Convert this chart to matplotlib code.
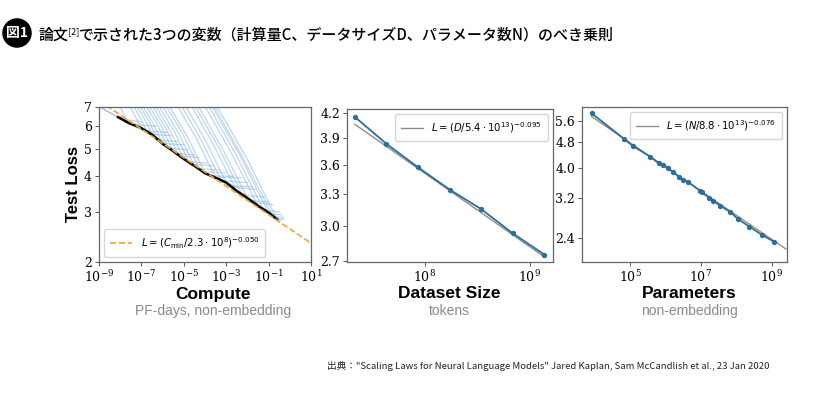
import numpy as np
import matplotlib.pyplot as plt
from matplotlib.font_manager import FontProperties

plt.rcParams['font.family'] = ['Noto Sans CJK JP', 'DejaVu Sans']
plt.rcParams['mathtext.fontset'] = 'dejavuserif'

# ---- panel 1: compute (log10 PF-days) vs test loss
frontier_logc = [-8.1, -7.6, -7.0, -6.5, -6.0, -5.5, -5.0, -4.5, -4.0, -3.5,
                 -3.0, -2.5, -2.0, -1.5, -1.0, -0.6]
frontier_loss = [6.45, 6.15, 5.9, 5.6, 5.2, 4.9, 4.6, 4.35, 4.1, 3.95,
                 3.8, 3.55, 3.35, 3.15, 2.98, 2.82]
fit_c = [1e-9, 1e1]
fit_c_loss = [7.37, 2.33]

curve_logc = [
    [-9.0, -8.6, -8.2, -7.6, -7.0],
    [-8.9, -8.5, -8.1, -7.5],
    [-8.0, -7.8, -7.6, -7.0, -6.3],
    [-7.53, -7.27, -7.0, -6.5, -5.8],
    [-7.35, -7.05, -6.75, -6.3, -5.6],
    [-7.19, -6.85, -6.5, -6.0, -5.3],
    [-7.05, -6.65, -6.25, -5.8, -5.0],
    [-6.92, -6.46, -6.0, -5.5, -4.8],
    [-6.75, -6.25, -5.75, -5.2, -4.5],
    [-6.61, -6.06, -5.5, -5.0, -4.3],
    [-6.45, -5.85, -5.25, -4.7, -3.9],
    [-6.30, -5.65, -5.0, -4.5, -3.6],
    [-6.15, -5.45, -4.75, -4.2, -3.3],
    [-5.98, -5.24, -4.5, -4.0, -3.0],
    [-5.80, -5.03, -4.25, -3.7, -2.7],
    [-5.66, -4.83, -4.0, -3.5, -2.3],
    [-5.27, -4.39, -3.5, -3.0, -2.0],
    [-5.08, -4.17, -3.25, -2.7, -1.8],
    [-4.89, -3.95, -3.0, -2.5, -1.6],
    [-4.61, -3.56, -2.5, -2.0, -1.2],
    [-4.45, -3.35, -2.25, -1.7, -1.0],
    [-4.29, -3.15, -2.0, -1.5, -0.8],
    [-3.98, -2.74, -1.5, -1.0, -0.5],
    [-3.80, -2.53, -1.25, -0.8, -0.4],
    [-3.65, -2.33, -1.0, -0.6, -0.3],
    [-3.55, -2.18, -0.8, -0.5, -0.25],
    [-3.42, -2.01, -0.6, -0.4],
]
curve_loss = [
    [7.0, 6.75, 6.5, 6.3, 6.2],
    [7.0, 6.7, 6.45, 6.2],
    [7.0, 6.55, 6.15, 6.05, 6.0],
    [7.0, 6.45, 5.9, 5.75, 5.7],
    [7.0, 6.4, 5.75, 5.6, 5.55],
    [7.0, 6.35, 5.6, 5.35, 5.3],
    [7.0, 6.25, 5.4, 5.2, 5.15],
    [7.0, 6.15, 5.2, 5.0, 4.95],
    [7.0, 6.1, 5.05, 4.8, 4.75],
    [7.0, 6.0, 4.9, 4.7, 4.65],
    [7.0, 5.9, 4.75, 4.5, 4.45],
    [7.0, 5.8, 4.6, 4.4, 4.35],
    [7.0, 5.75, 4.47, 4.25, 4.2],
    [7.0, 5.65, 4.35, 4.15, 4.1],
    [7.0, 5.6, 4.22, 4.02, 4.0],
    [7.0, 5.5, 4.1, 3.97, 3.95],
    [7.0, 5.4, 3.95, 3.85, 3.8],
    [7.0, 5.35, 3.88, 3.7, 3.68],
    [7.0, 5.3, 3.8, 3.65, 3.6],
    [7.0, 5.1, 3.55, 3.42, 3.38],
    [7.0, 5.05, 3.45, 3.28, 3.25],
    [7.0, 4.95, 3.35, 3.22, 3.18],
    [7.0, 4.8, 3.15, 3.03, 3.0],
    [7.0, 4.75, 3.06, 2.95, 2.93],
    [7.0, 4.7, 2.98, 2.88, 2.87],
    [7.0, 4.6, 2.9, 2.84, 2.83],
    [7.0, 4.6, 2.82, 2.8],
]

# ---- panel 2: dataset size
tokens = [2.15e7, 4.3e7, 8.6e7, 1.72e8, 3.44e8, 6.88e8, 1.376e9]
data_loss = [4.15, 3.83, 3.57, 3.34, 3.15, 2.93, 2.75]
fit_d = [2.15e7, 1.38e9]
fit_d_loss = [4.06, 2.73]

# ---- panel 3: parameters
params = [8.3e3, 6.8e4, 1.19e5, 3.67e5, 6.6e5, 8.7e5, 1.21e6, 1.67e6, 2.47e6,
          3.2e6, 4.45e6, 9.5e6, 1.06e7, 1.7e7, 2.26e7, 3.49e7, 6.7e7, 1.15e8,
          2.35e8, 5.25e8, 1.15e9]
param_loss = [5.92, 4.92, 4.68, 4.33, 4.12, 4.08, 3.98, 3.86, 3.74, 3.66,
              3.60, 3.38, 3.34, 3.22, 3.14, 3.04, 2.90, 2.75, 2.61, 2.46, 2.34]
fit_n = [8.3e3, 2.5e9]
fit_n_loss = [5.78, 2.22]

W, H = 840, 397
fig = plt.figure(figsize=(8.4, 3.97), dpi=100)

def px_axes(l, t, r, b):
    return fig.add_axes([l / W, 1 - b / H, (r - l) / W, (b - t) / H])

ax1 = px_axes(99, 107, 311, 262)
ax2 = px_axes(347, 109, 553, 262)
ax3 = px_axes(582, 107, 787, 262)

line_blue = '#2c6e9c'
leg_prop = FontProperties(family='DejaVu Sans', math_fontfamily='dejavusans', size=7.3)

# panel 1
for xs, ys in zip(curve_logc, curve_loss):
    ax1.plot(10 ** np.array(xs), ys, color='#5b9bd5', alpha=0.4, lw=0.9)
ax1.plot(10 ** np.array(frontier_logc), frontier_loss, color='black', lw=1.8)
ax1.plot(fit_c, fit_c_loss, color='#f0a630', ls='--', lw=1.2,
         label=r'$L = (C_{\rm min}/2.3\cdot 10^{8})^{-0.050}$')
ax1.set_xscale('log')
ax1.set_yscale('log')
ax1.set_xlim(1e-9, 1e1)
ax1.set_ylim(2, 7)
ax1.set_xticks([1e-9, 1e-7, 1e-5, 1e-3, 1e-1, 1e1])
ax1.set_xticklabels([r'$10^{-9}$', r'$10^{-7}$', r'$10^{-5}$', r'$10^{-3}$',
                     r'$10^{-1}$', r'$10^{1}$'])
ax1.set_yticks([2, 3, 4, 5, 6, 7])
ax1.set_yticklabels(['2', '3', '4', '5', '6', '7'])
ax1.set_ylabel('Test Loss', family='Liberation Sans', fontweight='bold',
               fontsize=12, labelpad=2)
ax1.legend(loc='lower left', prop=leg_prop, handlelength=2.2, borderpad=0.6)

# panel 2
ax2.plot(fit_d, fit_d_loss, color='#8c8c8c', lw=1.0,
         label=r'$L = (D/5.4\cdot 10^{13})^{-0.095}$')
ax2.plot(tokens, data_loss, color=line_blue, lw=1.3, marker='o', ms=2.8)
ax2.set_xscale('log')
ax2.set_yscale('log')
ax2.set_xlim(1.81e7, 1.66e9)
ax2.set_ylim(2.69, 4.25)
ax2.set_xticks([1e8, 1e9])
ax2.set_xticklabels([r'$10^{8}$', r'$10^{9}$'])
ax2.set_yticks([2.7, 3.0, 3.3, 3.6, 3.9, 4.2])
ax2.set_yticklabels(['2.7', '3.0', '3.3', '3.6', '3.9', '4.2'])
h, l = ax2.get_legend_handles_labels()
ax2.legend(h[:1], l[:1], loc='upper right', prop=leg_prop, handlelength=2.2,
           borderpad=0.6)

# panel 3
ax3.plot(fit_n, fit_n_loss, color='#a08c7c', lw=1.0,
         label=r'$L = (N/8.8\cdot 10^{13})^{-0.076}$')
ax3.plot(params, param_loss, color=line_blue, lw=1.3, marker='o', ms=2.8)
ax3.set_xscale('log')
ax3.set_yscale('log')
ax3.set_xlim(4.4e3, 2.7e9)
ax3.set_ylim(2.02, 6.2)
ax3.set_xticks([1e5, 1e7, 1e9])
ax3.set_xticklabels([r'$10^{5}$', r'$10^{7}$', r'$10^{9}$'])
ax3.set_yticks([2.4, 3.2, 4.0, 4.8, 5.6])
ax3.set_yticklabels(['2.4', '3.2', '4.0', '4.8', '5.6'])
h, l = ax3.get_legend_handles_labels()
ax3.legend(h[:1], l[:1], loc='upper right', prop=leg_prop, handlelength=2.2,
           borderpad=0.6)

for ax in (ax1, ax2, ax3):
    ax.minorticks_off()
    ax.tick_params(labelsize=9, length=3, width=0.7, color='#555555',
                   labelfontfamily='DejaVu Serif', pad=2)
    for sp in ax.spines.values():
        sp.set_color('#666666')
        sp.set_linewidth(0.9)

# axis titles under each panel
labels = [('Compute', 'PF-days, non-embedding', 213),
          ('Dataset Size', 'tokens', 449),
          ('Parameters', 'non-embedding', 689)]
for main, sub, xc in labels:
    fig.text(xc / W, 1 - 294 / H, main, ha='center', va='center',
             family='Liberation Sans', fontweight='bold', fontsize=12.5)
    fig.text(xc / W, 1 - 311 / H, sub, ha='center', va='center',
             family='Liberation Sans', fontsize=10, color='#8a8a8a')

# heading
fig.text(17 / W, 1 - 33 / H, '図1', ha='center', va='center', color='white',
         fontsize=10, fontweight='bold',
         bbox=dict(boxstyle='circle,pad=0.22', fc='black', ec='black'))
t1 = fig.text(38 / W, 1 - 40 / H, '論文', fontsize=10.8, va='baseline',
              fontweight='medium')
t2 = plt.annotate('[2]', xy=(1, 0.45), xycoords=t1, fontsize=6.5,
                  va='bottom', ha='left', annotation_clip=False)
plt.annotate('で示された3つの変数（計算量C、データサイズD、パラメータ数N）のべき乗則',
             xy=(1, 0), xycoords=(t2, t1), fontsize=10.8, va='bottom', ha='left',
             fontweight='medium', annotation_clip=False)

fig.text(327 / W, 1 - 366 / H,
         '出典："Scaling Laws for Neural Language Models" Jared Kaplan, '
         'Sam McCandlish et al., 23 Jan 2020',
         fontsize=6.9, va='center', ha='left', color='#222222')

fig.savefig('out.png', dpi=100)
